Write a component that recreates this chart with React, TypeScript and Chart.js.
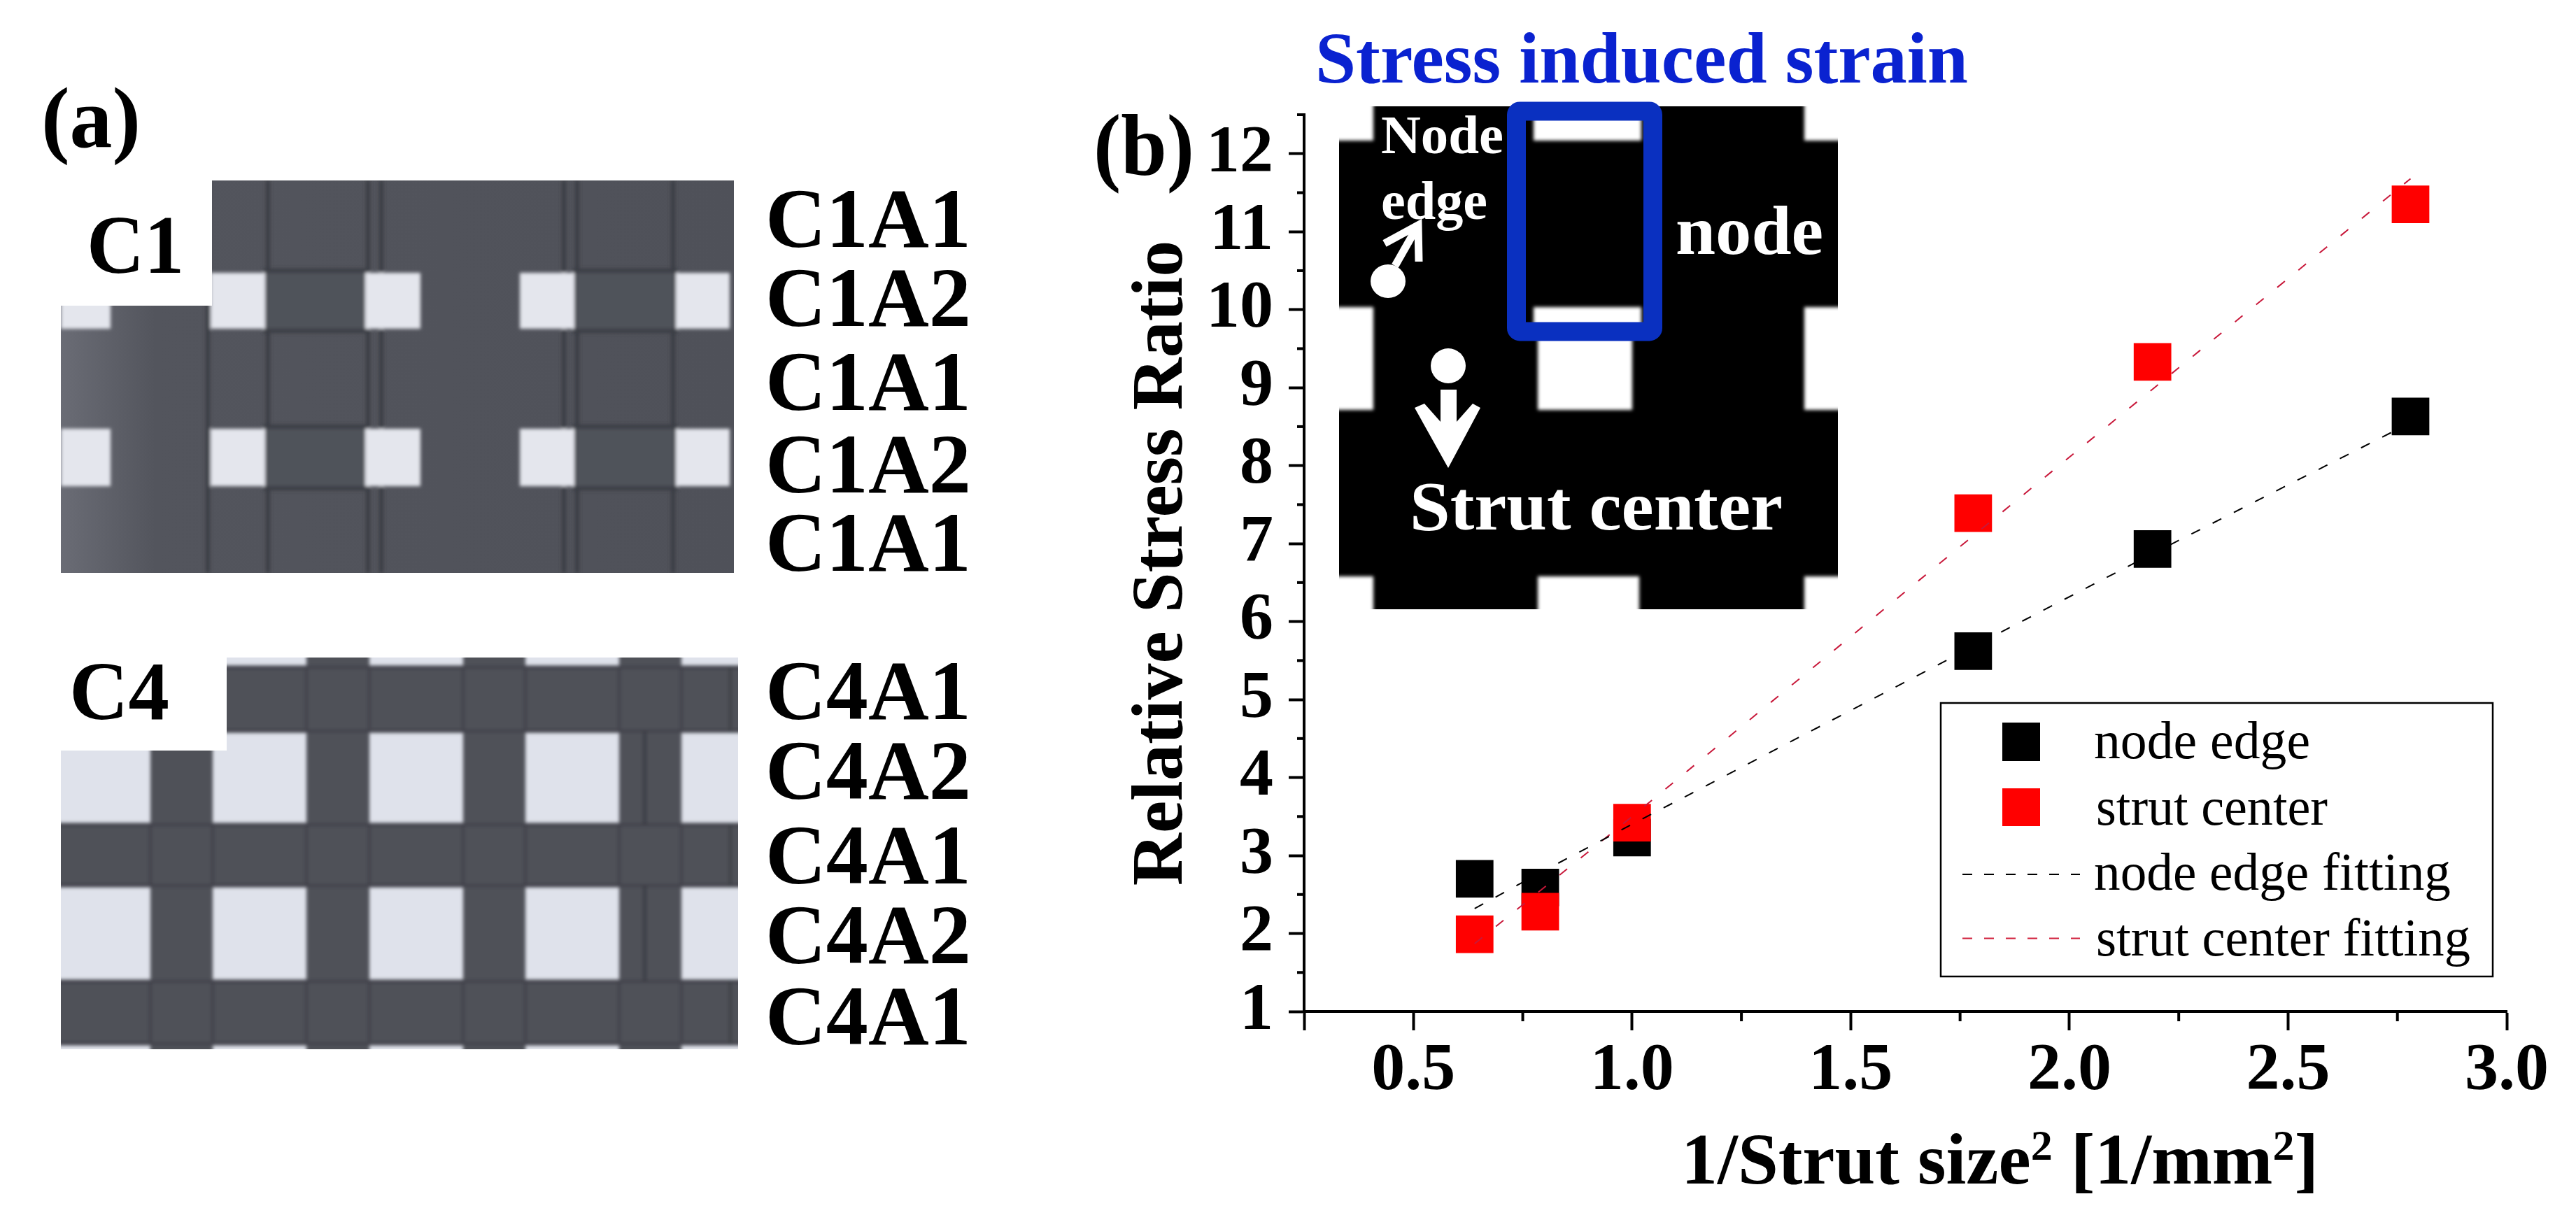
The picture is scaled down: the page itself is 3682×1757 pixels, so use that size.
import React, { useEffect, useRef } from "react";
import { Chart, registerables } from "chart.js";

Chart.register(...registerables);

// ---------- data ----------
const strutX = [0.64, 0.79, 1.0, 1.78, 2.19, 2.78];
const nodeEdge = [2.7, 2.59, 3.23, 5.62, 6.93, 8.63];
const strutCenter = [1.99, 2.28, 3.42, 7.39, 9.33, 11.35];
const nodeEdgeFit = [2.32, 2.78, 3.4, 5.68, 6.87, 8.55];
const strutCenterFit = [1.87, 2.55, 3.5, 7.1, 8.98, 11.68];
const seriesNames = ["node edge", "strut center", "node edge fitting", "strut center fitting"];
const xLabels = ["0.5", "1.0", "1.5", "2.0", "2.5", "3.0"];
const yLabels = ["1", "2", "3", "4", "5", "6", "7", "8", "9", "10", "11", "12"];
const c1Rows = ["C1A1", "C1A2", "C1A1", "C1A2", "C1A1"];
const c4Rows = ["C4A1", "C4A2", "C4A1", "C4A2", "C4A1"];

const FONT = "'Liberation Serif'";
const W = 3682;
const H = 1757;
const AREA = { left: 1864, right: 3583, top: 164, bottom: 1446 };

const toPoints = (ys: number[]) => strutX.map((x, i) => ({ x, y: ys[i] }));
const isLongX = (v: number) => v === 0.25 || xLabels.includes(v.toFixed(1));
const isLongY = (v: number) => yLabels.includes(String(v));

const minorTicks = {
  id: "minorTicks",
  afterDraw(chart: any) {
    const { ctx, scales } = chart;
    ctx.save();
    ctx.strokeStyle = "#000";
    ctx.lineWidth = 4;
    scales.x.ticks.forEach((t: any) => {
      if (isLongX(t.value)) return;
      const px = scales.x.getPixelForValue(t.value);
      ctx.beginPath();
      ctx.moveTo(px, scales.x.top);
      ctx.lineTo(px, scales.x.top + 14);
      ctx.stroke();
    });
    scales.y.ticks.forEach((t: any) => {
      if (isLongY(t.value)) return;
      const py = scales.y.getPixelForValue(t.value);
      ctx.beginPath();
      ctx.moveTo(scales.y.right, py);
      ctx.lineTo(scales.y.right - 10, py);
      ctx.stroke();
    });
    ctx.restore();
  },
};

const txt = (
  s: string,
  x: number,
  y: number,
  size: number,
  opts: { fill?: string; weight?: string; len?: number } = {}
) => (
  <text
    x={x}
    y={y}
    fontFamily={FONT}
    fontSize={size}
    fontWeight={opts.weight ?? "bold"}
    fill={opts.fill ?? "#000"}
    textLength={opts.len}
    lengthAdjust={opts.len ? "spacingAndGlyphs" : undefined}
  >
    {s}
  </text>
);

function Overlay() {
  const c1HoleX: [number, number][] = [
    [87, 158],
    [301, 379],
    [522, 601],
    [743, 821],
    [966, 1043],
  ];
  const c1HoleY: [number, number][] = [
    [390, 470],
    [613, 695],
  ];
  const c1Lines = [297, 383, 526, 545, 806, 825, 962];
  const c4Bars: [number, number][] = [
    [215, 304],
    [438, 528],
    [662, 751],
    [885, 974],
  ];
  const c4Bands: [number, number][] = [
    [954, 1045],
    [1179, 1266],
    [1403, 1492],
  ];
  const c1Base = [353, 466, 586, 704, 816];
  const c4Base = [1028, 1142, 1263, 1377, 1493];
  return (
    <svg
      width={W}
      height={H}
      style={{ position: "absolute", left: 0, top: 0, pointerEvents: "none" }}
    >
      <defs>
        <filter id="soft" x="-2%" y="-2%" width="104%" height="104%">
          <feGaussianBlur stdDeviation="2.5" />
        </filter>
        <linearGradient id="c1grad" x1="0" x2="1" y1="0" y2="0">
          <stop offset="0" stopColor="#6a6c75" />
          <stop offset="0.14" stopColor="#53555d" />
          <stop offset="1" stopColor="#4f5159" />
        </linearGradient>
        <clipPath id="c1clip">
          <rect x={87} y={258} width={962} height={561} />
        </clipPath>
        <clipPath id="c4clip">
          <rect x={87} y={940} width={968} height={560} />
        </clipPath>
        <clipPath id="insetClip">
          <rect x={1914} y={152} width={713} height={719} />
        </clipPath>
      </defs>

      {/* panel (a): C1 */}
      <g clipPath="url(#c1clip)">
        <rect x={87} y={258} width={962} height={561} fill="url(#c1grad)" />
        <g filter="url(#soft)">
          {c1Lines.map((x) => (
            <rect key={x} x={x - 3} y={258} width={6} height={561} fill="#3a3c44" />
          ))}
          {c1HoleY.map(([t, b]) => (
            <g key={t}>
              <rect x={379} y={t - 3} width={145} height={b - t + 6} fill="#50525a" stroke="#3a3c44" strokeWidth={6} />
              <rect x={821} y={t - 3} width={145} height={b - t + 6} fill="#50525a" stroke="#3a3c44" strokeWidth={6} />
              {c1HoleX.map(([l, r]) => (
                <rect key={l} x={l} y={t} width={r - l} height={b - t} fill="#e4e6ed" />
              ))}
            </g>
          ))}
        </g>
      </g>
      <rect x={80} y={250} width={223} height={187} fill="#fff" />

      {/* panel (a): C4 */}
      <g clipPath="url(#c4clip)">
        <rect x={87} y={940} width={968} height={560} fill="#dfe2eb" />
        <g filter="url(#soft)">
          {c4Bands.map(([t, b]) => (
            <rect key={t} x={80} y={t} width={985} height={b - t} fill="#4f5159" stroke="#3f4149" strokeWidth={5} />
          ))}
          {c4Bars.map(([l, r]) => (
            <rect key={l} x={l} y={930} width={r - l} height={580} fill="#4f5159" />
          ))}
          {c4Bands.map(([t, b]) =>
            c4Bars.map(([l, r]) => (
              <rect key={t + "-" + l} x={l} y={t} width={r - l} height={b - t} fill="none" stroke="#3f4149" strokeWidth={4} />
            ))
          )}
          <rect x={919} y={1045} width={5} height={134} fill="#3a3c44" />
          <rect x={919} y={1266} width={5} height={137} fill="#3a3c44" />
          {c4Bands.map(([t, b]) => (
            <rect key={"end" + t} x={1042} y={t} width={4} height={b - t} fill="#3a3c44" />
          ))}
        </g>
      </g>
      <rect x={80} y={932} width={244} height={141} fill="#fff" />

      {txt("(a)", 59, 210, 122, { len: 142 })}
      {txt("C1", 124, 390, 118, { len: 139 })}
      {txt("C4", 99, 1028, 118, { len: 143 })}
      {c1Rows.map((s, i) => (
        <React.Fragment key={"c1" + i}>{txt(s, 1094, c1Base[i], 120, { len: 294 })}</React.Fragment>
      ))}
      {c4Rows.map((s, i) => (
        <React.Fragment key={"c4" + i}>{txt(s, 1094, c4Base[i], 120, { len: 294 })}</React.Fragment>
      ))}

      {/* panel (b): inset */}
      <g clipPath="url(#insetClip)">
        <rect x={1914} y={152} width={713} height={719} fill="#000" />
        <g filter="url(#soft)" fill="#fff">
          <rect x={1900} y={140} width={63} height={61} />
          <rect x={2192} y={140} width={154} height={61} />
          <rect x={2579} y={140} width={60} height={61} />
          <rect x={1900} y={439} width={63} height={147} />
          <rect x={2198} y={439} width={135} height={147} />
          <rect x={2192} y={439} width={154} height={30} />
          <rect x={2579} y={439} width={60} height={147} />
          <rect x={1900} y={824} width={63} height={60} />
          <rect x={2198} y={824} width={145} height={60} />
          <rect x={2579} y={824} width={60} height={60} />
        </g>
      </g>
      <rect x={2167.5} y={159} width={195} height={315} rx={5} fill="none" stroke="#0a30c0" strokeWidth={27} />
      <ellipse cx={1984} cy={402} rx={25} ry={24} fill="#fff" />
      <ellipse cx={2070} cy={523} rx={25} ry={25} fill="#fff" />
      <polyline points="1994,380 2027,322" stroke="#fff" strokeWidth={11} fill="none" />
      <polyline points="1979,348 2027,322 2028,374" stroke="#fff" strokeWidth={11} fill="none" />
      <polygon
        points="2022,583 2036,577 2059,603 2059,557 2082,557 2082,603 2105,577 2116,583 2070,669"
        fill="#fff"
      />
      {txt("Node", 1974, 219, 78, { fill: "#fff", len: 175 })}
      {txt("edge", 1974, 313, 78, { fill: "#fff", len: 152 })}
      {txt("node", 2395, 363, 100, { fill: "#fff", len: 211 })}
      {txt("Strut center", 2015, 757, 100, { fill: "#fff", len: 533 })}

      {txt("Stress induced strain", 1880, 118, 104, { fill: "#0a22d0", len: 933 })}
      {txt("(b)", 1563, 250, 124, { len: 144 })}

      {/* x axis title */}
      <text x={2403} y={1692} fontFamily={FONT} fontSize={104} fontWeight="bold" fill="#000">
        1/Strut size
        <tspan fontSize={62} dy={-34}>2</tspan>
        <tspan dy={34}> [1/mm</tspan>
        <tspan fontSize={62} dy={-34}>2</tspan>
        <tspan dy={34}>]</tspan>
      </text>

      {/* legend */}
      <rect x={2774} y={1005} width={789} height={391} fill="#fff" stroke="#000" strokeWidth={2.5} />
      <rect x={2862} y={1033} width={54} height={55} fill="#000" />
      <rect x={2862} y={1127} width={54} height={54} fill="#f00" />
      <line x1={2805} x2={2973} y1={1250} y2={1250} stroke="#000" strokeWidth={2} strokeDasharray="14 17" />
      <line x1={2805} x2={2973} y1={1341.5} y2={1341.5} stroke="#d0203c" strokeWidth={2} strokeDasharray="14 17" />
      {txt(seriesNames[0], 2993, 1084, 76, { weight: "normal", len: 309 })}
      {txt(seriesNames[1], 2996, 1179, 76, { weight: "normal", len: 331 })}
      {txt(seriesNames[2], 2993, 1272, 76, { weight: "normal", len: 510 })}
      {txt(seriesNames[3], 2996, 1366, 76, { weight: "normal", len: 535 })}
    </svg>
  );
}

export default function App() {
  const ref = useRef<HTMLCanvasElement>(null);

  useEffect(() => {
    const yScaleWidth = 300;
    const xScaleHeight = 200;
    const chart = new Chart(ref.current as HTMLCanvasElement, {
      type: "scatter",
      data: {
        datasets: [
          {
            label: seriesNames[2],
            data: toPoints(nodeEdgeFit),
            showLine: true,
            pointRadius: 0,
            borderColor: "#000",
            borderWidth: 2,
            borderDash: [14, 20],
            order: 0,
          },
          {
            label: seriesNames[3],
            data: toPoints(strutCenterFit),
            showLine: true,
            pointRadius: 0,
            borderColor: "#c8183a",
            borderWidth: 2,
            borderDash: [14, 25],
            order: 1,
          },
          {
            label: seriesNames[1],
            data: toPoints(strutCenter),
            showLine: false,
            pointStyle: "rect",
            pointRadius: 38,
            pointBorderWidth: 0,
            backgroundColor: "#ff0000",
            order: 2,
          },
          {
            label: seriesNames[0],
            data: toPoints(nodeEdge),
            showLine: false,
            pointStyle: "rect",
            pointRadius: 38,
            pointBorderWidth: 0,
            backgroundColor: "#000",
            order: 3,
          },
        ],
      } as any,
      plugins: [minorTicks],
      options: {
        animation: false,
        responsive: false,
        devicePixelRatio: 1,
        clip: false,
        layout: {
          padding: {
            left: AREA.left - yScaleWidth,
            right: W - AREA.right,
            top: AREA.top,
            bottom: H - AREA.bottom - xScaleHeight,
          },
        },
        plugins: { legend: { display: false }, title: { display: false }, tooltip: { enabled: false } },
        scales: {
          x: {
            type: "linear",
            min: 0.25,
            max: 3,
            afterFit: (s: any) => {
              s.height = xScaleHeight;
            },
            border: { display: true, color: "#000", width: 4 },
            grid: {
              drawOnChartArea: false,
              drawTicks: true,
              tickLength: 27,
              tickWidth: 4,
              tickColor: (c: any) => (c.tick && isLongX(c.tick.value) ? "#000" : "rgba(0,0,0,0)"),
            },
            ticks: {
              stepSize: 0.25,
              autoSkip: false,
              maxRotation: 0,
              minRotation: 0,
              padding: 2,
              color: "#000",
              font: { family: FONT, size: 96, weight: "bold" },
              callback: (v: any) => (xLabels.includes(Number(v).toFixed(1)) ? Number(v).toFixed(1) : ""),
            },
          },
          y: {
            type: "linear",
            min: 1,
            max: 12.5,
            afterFit: (s: any) => {
              s.width = yScaleWidth;
            },
            border: { display: true, color: "#000", width: 4 },
            grid: {
              drawOnChartArea: false,
              drawTicks: true,
              tickLength: 22,
              tickWidth: 4,
              tickColor: (c: any) => (c.tick && isLongY(c.tick.value) ? "#000" : "rgba(0,0,0,0)"),
            },
            title: {
              display: true,
              text: "Relative Stress Ratio",
              color: "#000",
              font: { family: FONT, size: 104, weight: "bold" },
              padding: { top: 36, bottom: 0 },
            },
            ticks: {
              stepSize: 0.5,
              autoSkip: false,
              padding: 22,
              color: "#000",
              font: { family: FONT, size: 96, weight: "bold" },
              callback: (v: any) => (yLabels.includes(String(v)) ? String(v) : ""),
            },
          },
        },
      } as any,
    });
    return () => chart.destroy();
  }, []);

  return (
    <div style={{ position: "absolute", left: 0, top: 0, width: W, height: H, overflow: "hidden", background: "#fff" }}>
      <canvas ref={ref} width={W} height={H} style={{ position: "absolute", left: 0, top: 0 }} />
      <Overlay />
    </div>
  );
}
